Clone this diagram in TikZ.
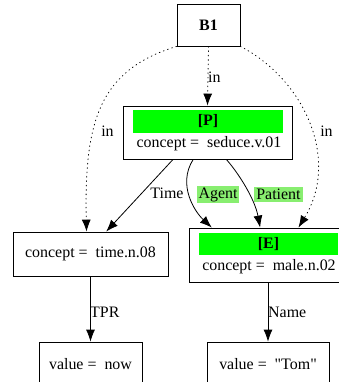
\documentclass[tikz,border=0pt]{standalone}
\usepackage{fontspec}
\setmainfont{Liberation Serif}
\newfontfamily\straightq{Liberation Serif}
\usetikzlibrary{arrows.meta}
\definecolor{tagGreen}{RGB}{0,255,0}
\definecolor{lblGreen}{RGB}{136,238,112}
\begin{document}
\begin{tikzpicture}[x=1bp, y=-1bp,
		font=\fontsize{16}{19}\selectfont,
		box/.style={draw, line width=0.8bp, inner sep=0pt},
		tag/.style={fill=tagGreen, font=\fontsize{16}{19}\selectfont\bfseries, minimum width=150bp, minimum height=23bp, inner sep=0pt},
		lbl/.style={fill=lblGreen, inner sep=2bp},
		rel/.style={-{Latex[length=12bp,width=9bp]}, line width=0.8bp},
		inrel/.style={rel, dash pattern=on 0.8bp off 3.6bp, line cap=round}]
		\useasboundingbox (0,0) rectangle (339,382);
		\clip (0,0) rectangle (339,382);

		% boxes
		\node[box, minimum width=63bp, minimum height=42bp, font=\fontsize{16}{19}\selectfont\bfseries] (B1) at (208.5,25) {B1};
		\node[box, minimum width=169bp, minimum height=53bp] (P) at (207.5,132.5) {};
		\node[tag] (Ptag) at (208,121.5) {[P]};
		\node (Pconcept) at (209,144) {concept =\ \ seduce.v.01};
		\node[box, minimum width=155bp, minimum height=44bp] (time) at (90.5,254) {concept =\ \ time.n.08};
		\node[box, minimum width=158bp, minimum height=54bp] (E) at (268,255) {};
		\node[tag, minimum width=139bp, minimum height=22bp] (Etag) at (268.5,244) {[E]};
		\node (Econcept) at (269,267) {concept =\ \ male.n.02};
		\node[box, minimum width=103bp, minimum height=44bp] (now) at (90.5,364) {value =\ \ now};
		\node[box, minimum width=122bp, minimum height=44bp] (tom) at (268,364) {value =\ \ {\straightq "Tom"}};

		% in
		\draw[inrel] (B1.south) -- (P.north);
		\node[anchor=west, inner sep=0pt] (inP) at (208,77) {in};
		\draw[inrel] (B1.south west) .. controls (100,70) and (84,120) .. (time.100);
		\node (inT) at (107.5,131) {in};
		\draw[inrel] (B1.south east) .. controls (305,80) and (340,160) .. (E.42);
		\node (inE) at (326.5,131) {in};

		% roles
		\draw[rel] (P.218) -- (time.55);
		\node (lTime) at (167,193) {Time};
		\draw[rel] (P.242) .. controls (177,185) and (195,212) .. (E.154);
		\node[lbl] (lAgent) at (218,194.5) {Agent};
		\draw[rel] (P.305) .. controls (240,175) and (255,200) .. (E.106);
		\node[lbl] (lPatient) at (278.5,194.5) {Patient};
		\draw[rel] (time) -- (now);
		\node[anchor=west, inner sep=0pt] (lTPR) at (90,312) {TPR};
		\draw[rel] (E) -- (tom);
		\node[anchor=west, inner sep=0pt] (lName) at (268,312) {Name};
	\end{tikzpicture}
\end{document}
